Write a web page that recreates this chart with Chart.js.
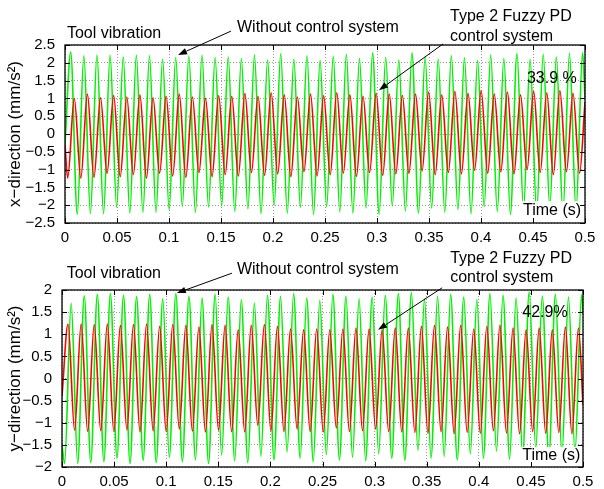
<!DOCTYPE html>
<html>
<head>
<meta charset="utf-8">
<script src="https://cdn.jsdelivr.net/npm/chart.js@4.4.1/dist/chart.umd.min.js"></script>
<style>
  html, body { margin: 0; padding: 0; background: #fff; }
  #wrap { position: relative; width: 604px; height: 489px; }
  canvas { position: absolute; left: 0; }
  #topChart { top: 0; }
  #bottomChart { top: 245px; }
</style>
</head>
<body>
<div id="wrap">
  <canvas id="topChart" width="604" height="245"></canvas>
  <canvas id="bottomChart" width="604" height="244"></canvas>
</div>
<script>
const FONT = '"Liberation Sans", Arial, Helvetica, sans-serif';
const TIME_MIN = 0;
const TIME_MAX = 0.5;

// tick values / labels
const timeTicks = [0, 0.05, 0.1, 0.15, 0.2, 0.25, 0.3, 0.35, 0.4, 0.45, 0.5];
const timeTickLabels = ['0', '0.05', '0.1', '0.15', '0.2', '0.25', '0.3', '0.35', '0.4', '0.45', '0.5'];
const xDirTicks = [-2.5, -2, -1.5, -1, -0.5, 0, 0.5, 1, 1.5, 2, 2.5];
const yDirTicks = [-2, -1.5, -1, -0.5, 0, 0.5, 1, 1.5, 2];

// ---- x-direction: values read at each peak / trough of the signal ----
const xHalfPeriod = 0.00631;       // s between a peak and the following trough
const xNoCtrlFirstTime = 0.0055;   // first green extremum (a peak)
const xNoCtrlStart = -0.3;
const xNoCtrlEnd = 1.0;
const xNoCtrlPeaks = [2.30, 2.20, 2.22, 2.21, 2.16, 2.21, 2.20, 2.10, 2.14, 2.19, 2.21, 2.15, 2.16,
  2.12, 2.22, 2.08, 2.25, 2.10, 2.20, 2.06, 2.18, 2.24, 2.12, 2.28, 2.15, 2.08,
  2.28, 2.16, 2.10, 2.20, 2.14, 2.06, 2.22, 2.12, 2.26, 2.10, 2.24, 2.16, 2.26, 2.28];
const xNoCtrlTroughs = [-2.26, -2.23, -2.23, -2.05, -2.22, -2.20, -2.20, -2.12, -2.03, -2.20, -2.05, -2.02, -2.17,
  -2.10, -2.24, -2.00, -2.22, -2.06, -2.26, -2.04, -2.18, -2.22, -2.08, -2.25, -2.02, -2.16,
  -2.22, -2.08, -2.20, -2.12, -2.24, -2.04, -2.18, -2.26, -2.10, -2.20, -2.06, -2.22, -2.14];

const xFuzzyFirstTime = 0.0026;    // first red extremum (a trough)
const xFuzzyStart = -0.3;
const xFuzzyEnd = 0.9;
const xFuzzyTroughs = [-1.24, -1.24, -1.22, -1.10, -1.20, -1.14, -1.24, -1.10, -1.18, -1.22, -1.08, -1.20, -1.14,
  -1.18, -1.08, -1.16, -1.12, -1.20, -1.06, -1.18, -1.14, -1.10, -1.19, -1.08, -1.16, -1.12,
  -1.10, -1.04, -1.14, -1.08, -1.12, -1.02, -1.10, -1.06, -1.12, -1.00, -1.08, -1.14, -1.06, -1.10];
const xFuzzyPeaks = [1.00, 1.12, 1.02, 1.08, 1.04, 1.10, 1.02, 1.06, 1.12, 1.04, 1.00, 1.08, 1.06,
  1.14, 1.06, 1.16, 1.10, 1.04, 1.12, 1.08, 1.16, 1.10, 1.06, 1.14, 1.12, 1.08,
  1.12, 1.18, 1.10, 1.20, 1.14, 1.22, 1.12, 1.18, 1.10, 1.20, 1.16, 1.22, 1.14];

// ---- y-direction ----
const yHalfPeriod = 0.00628;
const yNoCtrlFirstTime = 0.0025;   // first green extremum (a trough)
const yNoCtrlStart = -1.5;
const yNoCtrlEnd = 1.45;
const yNoCtrlTroughs = [-1.92, -1.92, -1.90, -1.88, -1.80, -1.92, -1.85, -1.90, -1.78, -1.88, -1.84, -1.92, -1.73,
  -1.86, -1.90, -1.76, -1.84, -1.66, -1.80, -1.88, -1.72, -1.84, -1.78, -1.86, -1.70, -1.80,
  -1.85, -1.62, -1.80, -1.76, -1.84, -1.70, -1.80, -1.64, -1.82, -1.74, -1.58, -1.80, -1.72, -1.66];
const yNoCtrlPeaks = [1.70, 1.87, 1.90, 1.92, 1.88, 1.85, 1.90, 1.80, 1.92, 1.86, 1.82, 1.90, 1.84,
  1.78, 1.70, 1.88, 1.86, 1.92, 1.82, 1.76, 1.90, 1.86, 1.80, 1.84, 1.88, 1.92,
  1.94, 1.80, 1.86, 1.90, 1.84, 1.78, 1.92, 1.88, 1.82, 1.96, 1.86, 1.90, 1.84, 1.89];

const yFuzzyFirstTime = 0.0058;    // first red extremum (a peak)
const yFuzzyStart = -0.4;
const yFuzzyEnd = -0.6;
const yFuzzyPeaks = [1.23, 1.23, 1.22, 1.23, 1.20, 1.22, 1.23, 1.18, 1.22, 1.20, 1.16, 1.22, 1.20,
  1.10, 1.20, 1.22, 1.18, 1.12, 1.10, 1.12, 1.10, 1.12, 1.14, 1.12, 1.10, 1.14,
  1.14, 1.18, 1.20, 1.16, 1.20, 1.12, 1.18, 1.20, 1.14, 1.10, 1.14, 1.10, 1.16, 1.14];
const yFuzzyTroughs = [-1.17, -1.20, -1.18, -1.20, -1.16, -1.21, -1.18, -1.20, -1.14, -1.19, -1.21, -1.17, -1.20,
  -1.21, -1.06, -1.18, -1.20, -1.14, -1.20, -1.21, -1.12, -1.20, -1.18, -1.14, -1.20, -1.21,
  -1.22, -1.24, -1.20, -1.25, -1.22, -1.24, -1.18, -1.23, -1.25, -1.20, -1.24, -1.22, -1.25];

Chart.defaults.font.family = FONT;
Chart.defaults.color = '#000';

// alternate the two extremum lists and attach the sample times
function buildSeries(first, second, startVal, endVal, firstTime, half) {
    const vals = [startVal];
    for (let i = 0; i < first.length; i++) {
        vals.push(first[i]);
        if (i < second.length) vals.push(second[i]);
    }
    vals.push(endVal);
    return vals.map((v, i) => ({
        x: i === 0 ? TIME_MIN : (i === vals.length - 1 ? TIME_MAX : firstTime + (i - 1) * half),
        y: v
    }));
}

function fmt(v) {
    return String(Number(v.toFixed(2))).replace('-', '\u2212');
}

// MATLAB-like box, inward ticks, texts and arrows
const matlabFrame = {
    id: 'matlabFrame',
    afterDatasetsDraw(chart, args, o) {
        const { ctx, chartArea: a, scales: { x, y } } = chart;
        const X = t => x.getPixelForValue(t);
        const Y = v => y.getPixelForValue(v);
        ctx.save();
        ctx.font = `16px ${FONT}`;
        ctx.textBaseline = 'middle';

        // "Time (s)" sits inside the axes on a white patch
        const tl = o.timeLabel;
        const w = ctx.measureText(tl.text).width;
        ctx.fillStyle = '#fff';
        ctx.fillRect(X(tl.t) - w - 3, Y(tl.v) - 9, w + 6, 18);
        ctx.fillStyle = '#000';
        ctx.textAlign = 'right';
        ctx.fillText(tl.text, X(tl.t), Y(tl.v));

        // box
        ctx.strokeStyle = '#000';
        ctx.lineWidth = 1.3;
        ctx.strokeRect(a.left, a.top, a.width, a.height);

        // inward tick marks on all four sides
        ctx.lineWidth = 1;
        ctx.beginPath();
        x.ticks.forEach(tk => {
            const p = Math.round(X(tk.value)) + 0.5;
            ctx.moveTo(p, a.bottom); ctx.lineTo(p, a.bottom - 5);
            ctx.moveTo(p, a.top); ctx.lineTo(p, a.top + 5);
        });
        y.ticks.forEach(tk => {
            const p = Math.round(Y(tk.value)) + 0.5;
            ctx.moveTo(a.left, p); ctx.lineTo(a.left + 5, p);
            ctx.moveTo(a.right, p); ctx.lineTo(a.right - 5, p);
        });
        ctx.stroke();

        // free texts
        ctx.textAlign = 'left';
        o.notes.forEach(n => ctx.fillText(n.text, X(n.t), Y(n.v)));

        // arrows
        o.arrows.forEach(ar => {
            const x0 = X(ar.from[0]), y0 = Y(ar.from[1]);
            const x1 = X(ar.to[0]), y1 = Y(ar.to[1]);
            const ang = Math.atan2(y1 - y0, x1 - x0);
            const len = 9, half = 3.2;
            const bx = x1 - len * Math.cos(ang), by = y1 - len * Math.sin(ang);
            ctx.beginPath();
            ctx.moveTo(x0, y0); ctx.lineTo(bx, by);
            ctx.lineWidth = 1;
            ctx.stroke();
            ctx.beginPath();
            ctx.moveTo(x1, y1);
            ctx.lineTo(bx + half * Math.sin(ang), by - half * Math.cos(ang));
            ctx.lineTo(bx - half * Math.sin(ang), by + half * Math.cos(ang));
            ctx.closePath();
            ctx.fillStyle = '#000';
            ctx.fill();
        });
        ctx.restore();
    }
};

function makeChart(id, cfg) {
    const lineStyle = {
        pointRadius: 0,
        borderWidth: 1.6,
        cubicInterpolationMode: 'monotone',
        fill: false
    };
    return new Chart(document.getElementById(id), {
        type: 'line',
        data: {
            datasets: [
                { label: 'Type 2 Fuzzy PD control system', data: cfg.fuzzy, borderColor: '#ff0000', ...lineStyle },
                { label: 'Without control system', data: cfg.noControl, borderColor: '#00f000', ...lineStyle }
            ]
        },
        options: {
            responsive: false,
            animation: false,
            devicePixelRatio: 1,
            layout: { padding: { top: 45, right: cfg.padRight, left: 0, bottom: 0 } },
            plugins: {
                legend: { display: false },
                tooltip: { enabled: false },
                matlabFrame: cfg.frame
            },
            scales: {
                x: {
                    type: 'linear',
                    min: TIME_MIN,
                    max: TIME_MAX,
                    afterBuildTicks: s => { s.ticks = timeTicks.map(v => ({ value: v })); },
                    afterFit: s => { s.height = cfg.xAxisHeight; },
                    grid: { color: 'rgba(0,0,0,0.4)', lineWidth: 1, drawTicks: false },
                    border: { display: false, dash: [1, 2] },
                    ticks: {
                        autoSkip: false,
                        maxRotation: 0,
                        padding: 6,
                        font: { size: 15 },
                        callback: v => timeTickLabels[timeTicks.indexOf(Number(v.toFixed(2)))]
                    }
                },
                y: {
                    min: cfg.yTicks[0],
                    max: cfg.yTicks[cfg.yTicks.length - 1],
                    afterBuildTicks: s => { s.ticks = cfg.yTicks.map(v => ({ value: v })); },
                    afterFit: s => { s.width = cfg.yAxisWidth; },
                    grid: { color: 'rgba(0,0,0,0.4)', lineWidth: 1, drawTicks: false },
                    border: { display: false, dash: [1, 2] },
                    ticks: { autoSkip: false, padding: 10, font: { size: 15 }, callback: v => fmt(v) },
                    title: {
                        display: true,
                        text: cfg.yTitle,
                        font: { size: 17 },
                        padding: { top: 5, bottom: 0 }
                    }
                }
            }
        },
        plugins: [matlabFrame]
    });
}

makeChart('topChart', {
    noControl: buildSeries(xNoCtrlPeaks, xNoCtrlTroughs, xNoCtrlStart, xNoCtrlEnd, xNoCtrlFirstTime, xHalfPeriod),
    fuzzy: buildSeries(xFuzzyTroughs, xFuzzyPeaks, xFuzzyStart, xFuzzyEnd, xFuzzyFirstTime, xHalfPeriod),
    yTicks: xDirTicks,
    yTitle: 'x\u2212direction (mm/s\u00b2)',
    yAxisWidth: 65,
    padRight: 19,
    xAxisHeight: 22,
    frame: {
        timeLabel: { text: 'Time (s)', t: 0.4962, v: -2.14 },
        notes: [
            { text: 'Tool vibration', t: 0.0019, v: 2.81 },
            { text: 'Without control system', t: 0.1654, v: 3.0 },
            { text: 'Type 2 Fuzzy PD', t: 0.3702, v: 3.29 },
            { text: 'control system', t: 0.3702, v: 2.73 },
            { text: '33.9 %', t: 0.4442, v: 1.57 }
        ],
        arrows: [
            { from: [0.1596, 2.89], to: [0.1087, 2.22] },
            { from: [0.3635, 2.53], to: [0.3019, 1.23] }
        ]
    }
});

makeChart('bottomChart', {
    noControl: buildSeries(yNoCtrlTroughs, yNoCtrlPeaks, yNoCtrlStart, yNoCtrlEnd, yNoCtrlFirstTime, yHalfPeriod),
    fuzzy: buildSeries(yFuzzyPeaks, yFuzzyTroughs, yFuzzyStart, yFuzzyEnd, yFuzzyFirstTime, yHalfPeriod),
    yTicks: yDirTicks,
    yTitle: 'y\u2212direction (mm/s\u00b2)',
    yAxisWidth: 62,
    padRight: 21,
    xAxisHeight: 22,
    frame: {
        timeLabel: { text: 'Time (s)', t: 0.4974, v: -1.75 },
        notes: [
            { text: 'Tool vibration', t: 0.0045, v: 2.36 },
            { text: 'Without control system', t: 0.1679, v: 2.45 },
            { text: 'Type 2 Fuzzy PD', t: 0.3725, v: 2.72 },
            { text: 'control system', t: 0.3725, v: 2.27 },
            { text: '42.9%', t: 0.4417, v: 1.48 }
        ],
        arrows: [
            { from: [0.1631, 2.38], to: [0.1102, 1.93] },
            { from: [0.3648, 2.05], to: [0.3033, 1.10] }
        ]
    }
});
</script>
</body>
</html>
